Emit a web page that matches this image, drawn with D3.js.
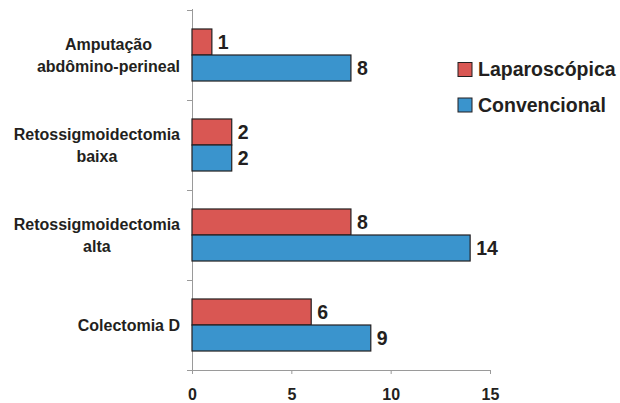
<!DOCTYPE html>
<html>
<head>
<meta charset="utf-8">
<script src="https://cdn.jsdelivr.net/npm/d3@7"></script>
<style>
  html, body { margin: 0; padding: 0; background: #fff; }
  svg { display: block; }
  text { font-family: "Liberation Sans", Arial, Helvetica, sans-serif; font-weight: bold; fill: #231f20; }
</style>
</head>
<body>
<svg id="chart" width="620" height="403"></svg>
<script>
// Procedures (top to bottom), split into wrapped label lines
const categories = ["Amputação abdômino-perineal", "Retossigmoidectomia baixa", "Retossigmoidectomia alta", "Colectomia D"];
const categoryLines = [["Amputação", "abdômino-perineal"], ["Retossigmoidectomia", "baixa"], ["Retossigmoidectomia", "alta"], ["Colectomia D"]];
const series = ["Laparoscópica", "Convencional"];
const laparoscopica = [1, 2, 8, 6];
const convencional = [8, 2, 14, 9];
const xTicks = [0, 5, 10, 15];
const colors = ["#d95753", "#3a94cd"];

const svg = d3.select("#chart");

const x = d3.scaleLinear().domain([0, 15]).range([192, 490]);
const y = d3.scaleBand().domain(categories).range([10, 370]).padding(0);
const ySub = d3.scaleBand().domain(series).range([0, y.bandwidth()]).paddingInner(0).paddingOuter(0.73);
const color = d3.scaleOrdinal().domain(series).range(colors);

const rows = categories.map((c, i) => ({
  category: c,
  lines: categoryLines[i],
  values: [
    { series: series[0], value: laparoscopica[i] },
    { series: series[1], value: convencional[i] }
  ]
}));

// Value axis along the bottom
const xAxis = svg.append("g")
  .attr("transform", `translate(0,370)`)
  .call(d3.axisBottom(x).tickValues(xTicks).tickSize(4).tickPadding(15).tickFormat(d3.format("d")));
xAxis.select(".domain").attr("d", "M187,0.5H490.5").attr("stroke", "#9a9a9a");
xAxis.selectAll(".tick line").attr("stroke", "#9a9a9a");
xAxis.selectAll(".tick text").attr("font-size", 16).attr("fill", "#231f20")
  .attr("font-family", "Liberation Sans, Arial, sans-serif").attr("font-weight", "bold");

// Category axis: plain line with ticks at band boundaries
const yAxisG = svg.append("g");
yAxisG.append("line")
  .attr("x1", x(0) + 0.5).attr("x2", x(0) + 0.5)
  .attr("y1", y.range()[0] - 1).attr("y2", y.range()[1])
  .attr("stroke", "#9a9a9a");
const boundaries = categories.map(c => y(c)).concat([y.range()[1]]);
yAxisG.selectAll("line.tick")
  .data(boundaries)
  .join("line")
  .attr("class", "tick")
  .attr("x1", x(0) - 5).attr("x2", x(0))
  .attr("y1", d => Math.round(d) + 0.5).attr("y2", d => Math.round(d) + 0.5)
  .attr("stroke", "#9a9a9a");

// Bars
const groups = svg.append("g").selectAll("g.row")
  .data(rows)
  .join("g")
  .attr("class", "row")
  .attr("transform", d => `translate(0,${y(d.category)})`);

groups.selectAll("rect")
  .data(d => d.values)
  .join("rect")
  .attr("x", x(0))
  .attr("y", d => ySub(d.series))
  .attr("width", d => x(d.value) - x(0))
  .attr("height", ySub.bandwidth())
  .attr("fill", d => color(d.series))
  .attr("stroke", "#231f20")
  .attr("stroke-width", 1.2);

groups.selectAll("text.value")
  .data(d => d.values)
  .join("text")
  .attr("class", "value")
  .attr("x", d => x(d.value) + 6)
  .attr("y", d => ySub(d.series) + ySub.bandwidth() / 2)
  .attr("dy", "0.34em")
  .attr("font-size", 19.5)
  .text(d => d.value);

// Category labels: lines centered on each other, block right-aligned near the axis
const labelRight = 180;
const lineHeight = 22;
const measure = svg.append("text").attr("font-size", 16).attr("visibility", "hidden");
rows.forEach(r => {
  const widths = r.lines.map(l => { measure.text(l); return measure.node().getComputedTextLength(); });
  const cx = labelRight - d3.max(widths) / 2;
  const mid = y(r.category) + y.bandwidth() / 2;
  const firstBaseline = mid + 6 - (r.lines.length - 1) * lineHeight / 2;
  const t = svg.append("text")
    .attr("font-size", 16)
    .attr("text-anchor", "middle");
  r.lines.forEach((l, i) => {
    t.append("tspan").attr("x", cx).attr("y", firstBaseline + i * lineHeight).text(l);
  });
});
measure.remove();

// Legend
const legend = svg.append("g").selectAll("g")
  .data(series)
  .join("g")
  .attr("transform", (d, i) => `translate(458,${62.5 + i * 35.5})`);
legend.append("rect")
  .attr("width", 14).attr("height", 14)
  .attr("fill", d => color(d))
  .attr("stroke", "#231f20").attr("stroke-width", 1);
legend.append("text")
  .attr("x", 20).attr("y", 13.5)
  .attr("font-size", 19.5)
  .text(d => d);
</script>
</body>
</html>
